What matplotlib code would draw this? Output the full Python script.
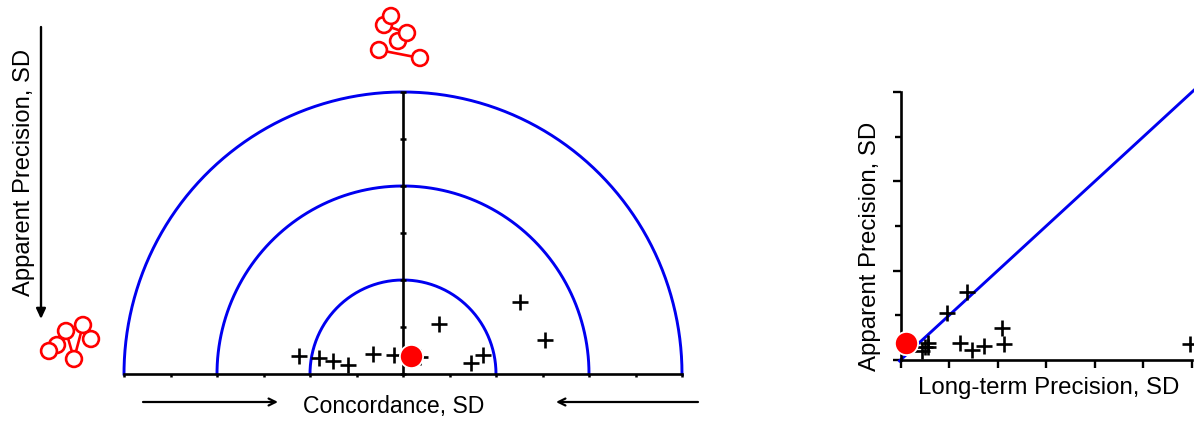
import matplotlib
matplotlib.use("Agg")
import matplotlib.pyplot as plt
import numpy as np
from matplotlib.patches import Circle

plt.rcParams['font.family'] = ['Liberation Sans', 'DejaVu Sans']

W, H = 1194, 421
BLUE = '#0000f0'
RED = '#ff0000'

# Left panel (concordance vs apparent precision)
radii = [2, 4, 6]
ticks_left_x = [-6, -5, -4, -3, -2, -1, 0, 1, 2, 3, 4, 5, 6]
ticks_left_y = [0, 1, 2, 3, 4, 5, 6]
conc_x = [-2.24, -1.81, -1.51, -1.18, -0.65, -0.19, 0.37, 0.77, 2.52, 3.05, 1.46, 1.72]
conc_y = [0.38, 0.34, 0.28, 0.19, 0.43, 0.40, 0.36, 1.06, 1.53, 0.72, 0.23, 0.40]
conc_ref = (0.17, 0.38)

# Right panel (long-term vs apparent precision)
lt_x = [1.37, 0.96, 2.09, 1.22, 1.47, 1.72, 2.13, 5.96, 0.57, 0.57, 0.50, 0.44]
lt_y = [1.52, 1.05, 0.72, 0.38, 0.22, 0.31, 0.36, 0.36, 0.38, 0.29, 0.29, 0.20]
lt_ref = (0.11, 0.38)
identity = [-0.02, 6.05]

# Decorative lab-result icons, in figure pixels
icon_top = [(384, 25), (391, 16), (398, 41), (407, 33), (379, 50), (420, 58)]
icon_top_links = [(0, 3), (4, 5), (2, 3)]
icon_left = [(57, 345), (49, 351), (66, 331), (91, 339), (83, 325), (74, 359)]
icon_left_links = [(2, 5), (4, 5)]


def axes_px(l, t, r, b):
    return fig.add_axes([l / W, 1 - b / H, (r - l) / W, (b - t) / H])


fig = plt.figure(figsize=(W / 100, H / 100), dpi=100)

# ---- left panel
ax = axes_px(124, 92, 682, 374)
ax.set_xlim(-6, 6)
ax.set_ylim(0, 6)
ax.patch.set_alpha(0)
for s in ('top', 'right', 'left'):
    ax.spines[s].set_visible(False)
ax.spines['bottom'].set_linewidth(1.9)
theta = np.linspace(0, np.pi, 300)
for r in radii:
    ax.plot(r * np.cos(theta), r * np.sin(theta), color=BLUE, lw=2.1, clip_on=False, zorder=2)
ax.plot([0, 0], [0, 6], color='black', lw=1.9, zorder=3)
ax.set_xticks(ticks_left_x)
ax.set_yticks([])
ax.tick_params(axis='x', length=2.5, width=1.8, direction='out', labelbottom=False, pad=0)
ax.plot([0] * len(ticks_left_y), ticks_left_y, ls='none', marker='_', ms=5, mew=1.8,
        color='black', clip_on=False, zorder=3)
ax.plot(conc_x, conc_y, ls='none', marker='+', ms=11, mew=1.9, color='black', clip_on=False, zorder=4)
ax.plot(*conc_ref, marker='o', ms=16.7, mfc=RED, mec='white', mew=1.3, clip_on=False, zorder=5)

# ---- right panel
bx = axes_px(900.5, 92, 1192, 360)
bx.set_xlim(0, 6)
bx.set_ylim(0, 6)
bx.patch.set_alpha(0)
for s in ('top', 'right'):
    bx.spines[s].set_visible(False)
bx.spines['left'].set_linewidth(1.9)
bx.spines['bottom'].set_linewidth(1.9)
bx.set_xticks(range(7))
bx.set_yticks([0, 2, 4, 6])
bx.set_yticks([1, 3, 5], minor=True)
bx.tick_params(axis='both', which='major', length=5.5, width=1.7, labelleft=False, labelbottom=False)
bx.tick_params(axis='y', which='minor', length=4, width=1.7)
bx.plot(identity, identity, color=BLUE, lw=2.1, clip_on=False, zorder=2)
bx.plot(lt_x, lt_y, ls='none', marker='+', ms=11, mew=1.9, color='black', clip_on=False, zorder=4)
bx.plot(*lt_ref, marker='o', ms=16.7, mfc=RED, mec='white', mew=1.3, clip_on=False, zorder=5)

# ---- overlay in pixels for annotations
ov = fig.add_axes([0, 0, 1, 1])
ov.set_xlim(0, W)
ov.set_ylim(H, 0)
ov.axis('off')
ov.patch.set_alpha(0)


def icon(pts, links):
    for a, b in links:
        ov.plot([pts[a][0], pts[b][0]], [pts[a][1], pts[b][1]], color=RED, lw=1.9, zorder=1)
    for i, p in enumerate(pts):
        ov.add_patch(Circle(p, 7.9, fc='white', ec=RED, lw=1.9, zorder=2 + i))


icon(icon_top, icon_top_links)
icon(icon_left, icon_left_links)


def arrow(p0, p1, style, lw):
    ov.annotate('', xy=p1, xytext=p0,
                arrowprops=dict(arrowstyle=style, color='black', lw=lw, shrinkA=0, shrinkB=0))


arrow((41, 27), (41, 319), '-|>,head_length=0.6,head_width=0.28', 1.7)
arrow((143, 402), (278, 402), '->,head_length=0.5,head_width=0.25', 1.6)
arrow((698, 402), (556, 402), '->,head_length=0.5,head_width=0.25', 1.6)

ov.text(394, 407, 'Concordance, SD', fontsize=16.6, ha='center', va='center')
ov.text(24, 172, 'Apparent Precision, SD', fontsize=17.1, rotation=90, ha='center', va='center')
ov.text(870, 246, 'Apparent Precision, SD', fontsize=17.3, rotation=90, ha='center', va='center')
ov.text(1049, 388, 'Long-term Precision, SD', fontsize=17.3, ha='center', va='center')

fig.savefig('out.png', dpi=100)
